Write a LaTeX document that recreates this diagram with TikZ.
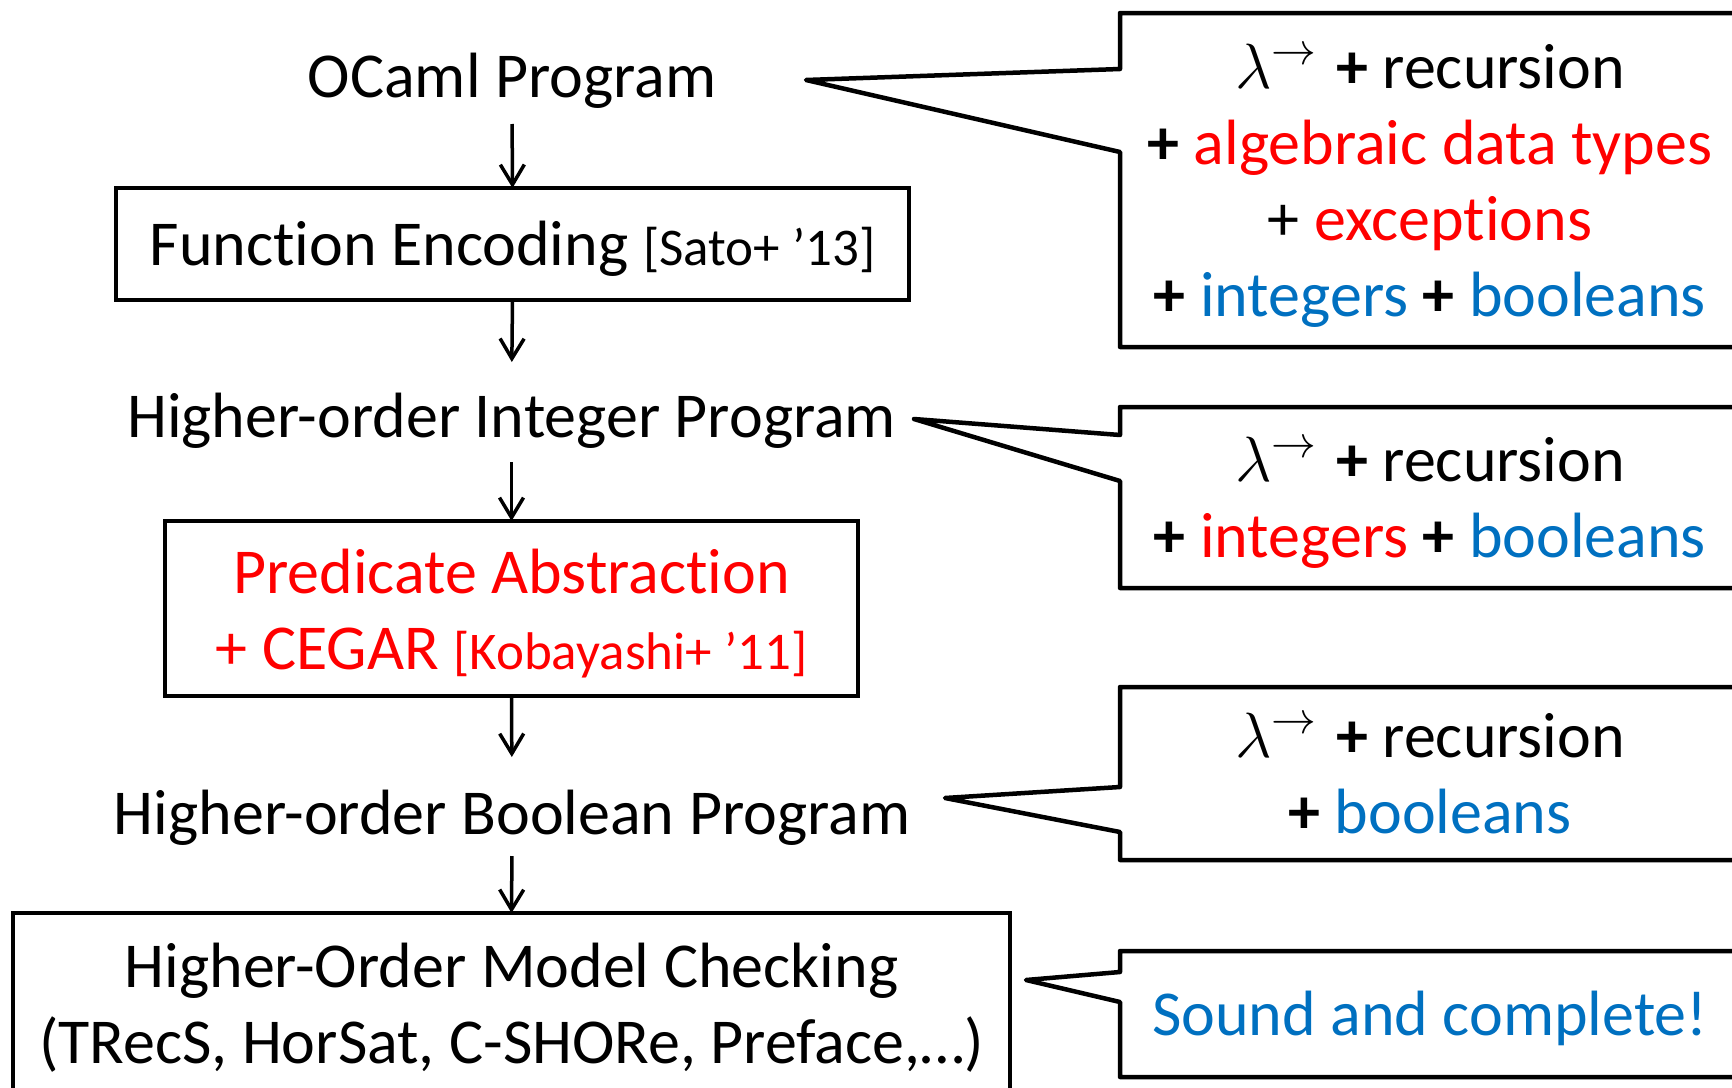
\RequirePackage{fix-cm}
\documentclass[tikz,border=0pt]{standalone}
\usepackage{fontspec}
\setmainfont{Carlito}[Ligatures=NoCommon]
\usetikzlibrary{arrows.meta}
\definecolor{accentred}{HTML}{FF0000}
\definecolor{accentblue}{HTML}{0070C0}
\newcommand{\citesize}{\fontsize{53pt}{76pt}\selectfont}
\newcommand{\bplus}{\textbf{+}}
\newcommand{\lamarrow}{$\lambda^{\rightarrow}$\hspace{0.3em}}
\begin{document}
\begin{tikzpicture}[x=1pt,y=-1pt,
  every node/.style={inner sep=0pt,outer sep=0pt},
  bigtext/.style={font=\fontsize{64pt}{76pt}\selectfont},
  stagetext/.style={bigtext,anchor=base,text height=44pt,text depth=13pt},
  stagebox/.style={draw,line width=4.5pt},
  boxtext/.style={bigtext,anchor=base,align=center},
  flow/.style={line width=3.5pt,-{Straight Barb[length=20pt,width=24pt]}},
  callout/.style={draw,line width=4.5pt,line join=round},
  note/.style={bigtext,anchor=base,align=center},
]
\useasboundingbox (0,0) rectangle (1732,1087);
\clip (0,0) rectangle (1732,1087);

% pipeline stages (multi-line texts are placed by the baseline of their last line)
\node[stagetext] (ocaml) at (512,97) {OCaml Program};
\node[stagebox,minimum width=793pt,minimum height=112pt] (fe) at (512.5,244) {};
\node[boxtext] (fetext) at (512.5,265) {Function Encoding {\citesize [Sato+ ’13]}};
\node[stagetext] (hoi) at (511.5,437) {Higher-order Integer Program};
\node[stagebox,minimum width=693pt,minimum height=175pt] (pa) at (511.5,608.5) {};
\node[boxtext,text=accentred] (patext) at (511.5,669)
  {Predicate Abstraction\\+ CEGAR {\citesize [Kobayashi+ ’11]}};
\node[stagetext] (hob) at (512,834) {Higher-order Boolean Program};
\node[stagebox,minimum width=997pt,minimum height=191pt] (homc) at (511.5,1008.5) {};
\node[boxtext] (homctext) at (511.5,1063)
  {Higher-Order Model Checking\\(TRecS, HorSat, C-SHORe, Preface,…)};

% flow arrows
\draw[flow,shorten <=14pt] (ocaml.south) -- (fe.north);
\draw[flow,shorten >=31pt] (fe.south) -- (hoi.north);
\draw[flow,shorten <=12pt] (hoi.south) -- (pa.north);
\draw[flow,shorten >=33pt] (pa.south) -- (hob.north);
\draw[flow,shorten <=9pt] (hob.south) -- (homc.north);

% callout tips
\coordinate (tipA) at (806,80);
\coordinate (tipB) at (914,419);
\coordinate (tipC) at (945,798);
\coordinate (tipD) at (1026,980);

% callouts
\draw[callout] (1760,13) -- (1120,13) -- (1120,69) -- (tipA) -- (1120,152) -- (1120,347) -- (1760,347);
\draw[callout] (1760,407) -- (1120,407) -- (1120,435) -- (tipB) -- (1120,481) -- (1120,588) -- (1760,588);
\draw[callout] (1760,687) -- (1120,687) -- (1120,787) -- (tipC) -- (1120,832) -- (1120,860) -- (1760,860);
\draw[callout] (1760,951) -- (1120,951) -- (1120,972) -- (tipD) -- (1120,1002) -- (1120,1077) -- (1760,1077);

\node[note] (noteA) at (1430,316)
  {\lamarrow\bplus{} recursion\\
   \bplus{} \textcolor{accentred}{algebraic data types}\\
   + \textcolor{accentred}{exceptions}\\
   \bplus{} \textcolor{accentblue}{integers} \bplus{} \textcolor{accentblue}{booleans}};
\node[note] (noteB) at (1430,557)
  {\lamarrow\bplus{} recursion\\
   \bplus{} \textcolor{accentred}{integers} \bplus{} \textcolor{accentblue}{booleans}};
\node[note] (noteC) at (1430,833)
  {\lamarrow\bplus{} recursion\\
   \bplus{} \textcolor{accentblue}{booleans}};
\node[note,text=accentblue] (noteD) at (1430,1035) {Sound and complete!};
\end{tikzpicture}
\end{document}
